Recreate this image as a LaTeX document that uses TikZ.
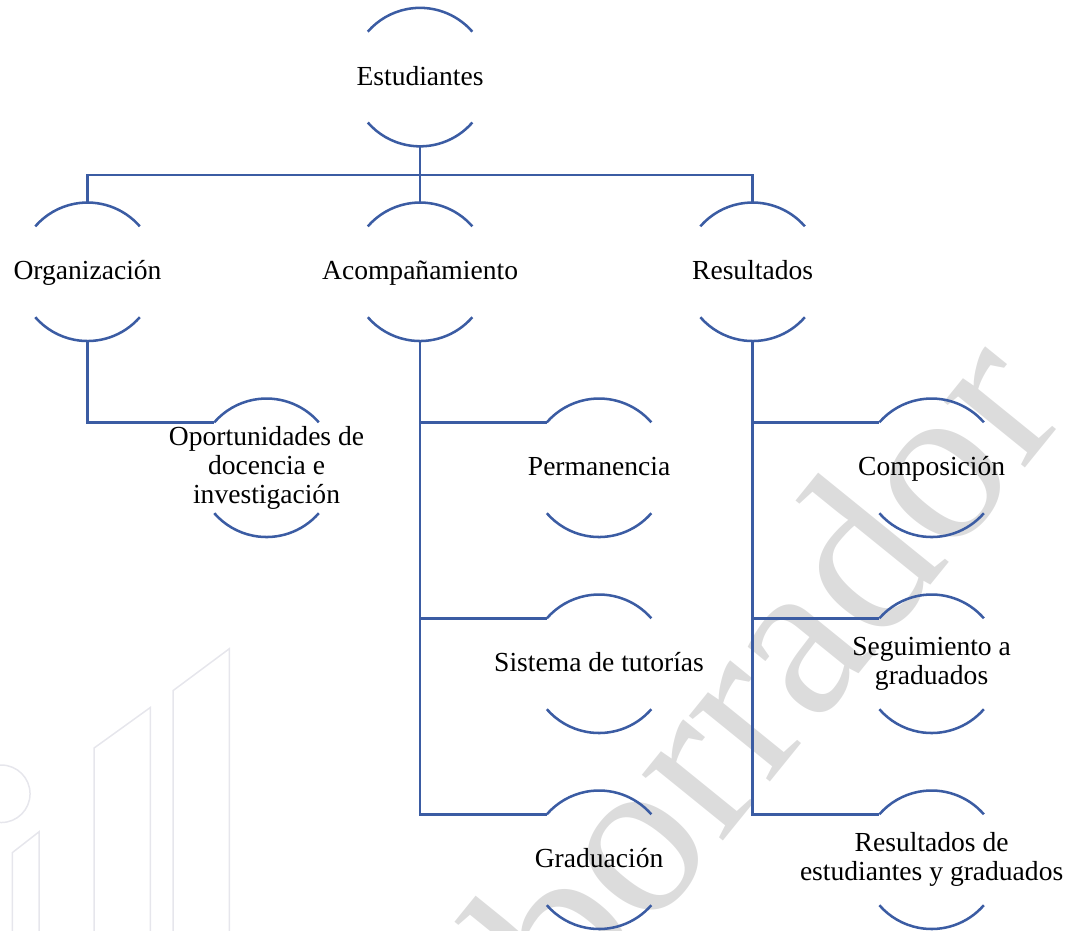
\documentclass[tikz,border=0pt]{standalone}
\usepackage{fontspec}
\setmainfont{Liberation Serif}
\usepackage{xcolor}
\usepackage{tikz}
\usetikzlibrary{positioning}

\definecolor{azulrama}{RGB}{59,92,163}
\definecolor{grismarca}{RGB}{220,220,220}
\definecolor{grislogo}{RGB}{230,230,236}

\tikzset{
  ring/.style={circle,minimum size=2.12cm,inner sep=0pt,outer sep=0pt},
  textos/.style={font=\fontsize{12}{12.5}\selectfont,align=center,inner sep=0pt},
  texto/.style={font=\fontsize{12}{12.5}\selectfont,inner sep=0pt,text height=8.5pt,text depth=1.5pt},
  rama/.style={draw=azulrama,line width=1.1pt},
}

\begin{document}
\begin{tikzpicture}[auto,every node/.style={on grid,node distance=3cm}]
    \useasboundingbox (-6.43,1.18) rectangle (10.04,-13.07);
    % marca de agua
    \draw[grislogo,line width=0.65pt] (-6.41,-10.97) circle (0.44);
    \draw[grislogo,line width=0.65pt] (-6.24,-13.07) -- (-6.24,-11.87) -- (-5.83,-11.55) -- (-5.83,-13.07);
    \draw[grislogo,line width=0.65pt] (-4.99,-13.07) -- (-4.99,-10.27) -- (-4.13,-9.65) -- (-4.13,-13.07);
    \draw[grislogo,line width=0.65pt] (-3.78,-13.07) -- (-3.78,-9.39) -- (-2.92,-8.75) -- (-2.92,-13.07);
    \node[rotate=51,text=grismarca,font=\fontsize{99}{99}\selectfont] (marca) at (5.25,-9.05) {borrador};

    \node[ring,label={[texto]center:Estudiantes}] (est) {};
    \node[ring,below of=est,node distance=2.98cm,label={[texto]center:Acompañamiento}] (acomp) {};
    \node[ring,left of=acomp,node distance=5.09cm,label={[texto]center:Organización}] (org) {};
    \node[ring,right of=acomp,node distance=5.09cm,label={[texto]center:Resultados}] (res) {};

    \node[ring,below right=3cm and 2.74cm of org,label={[textos]center:{Oportunidades de\\docencia e\\investigación}}] (oport) {};
    \node[ring,below right=3cm and 2.74cm of acomp,label={[texto]center:Permanencia}] (perm) {};
    \node[ring,below of=perm,label={[texto]center:Sistema de tutorías}] (tut) {};
    \node[ring,below of=tut,label={[texto]center:Graduación}] (grad) {};
    \node[ring,below right=3cm and 2.74cm of res,label={[texto]center:Composición}] (comp) {};
    \node[ring,below of=comp,label={[textos]center:{Seguimiento a\\graduados}}] (segui) {};
    \node[ring,below of=segui,label={[textos]center:{Resultados de\\estudiantes y graduados}}] (resest) {};

    % arcos
    \foreach \n in {est,org,acomp,res,oport,perm,tut,grad,comp,segui,resest} {
      \draw[rama] (\n.41) arc[start angle=41,end angle=139,radius=1.06cm];
      \draw[rama] (\n.-41) arc[start angle=-41,end angle=-139,radius=1.06cm];
    }

    \coordinate[below=0.44cm of est.south] (barra);
    \draw[rama] (est.south) -- (barra);
    \draw[rama] (barra) -| (org.north);
    \draw[rama] (barra) -| (res.north);
    \draw[rama] (barra) -- (acomp.north);
    \draw[rama] (org.south) |- (oport.139);
    \foreach \n in {perm,tut,grad}
      \draw[rama] (acomp.south) |- (\n.139);
    \foreach \n in {comp,segui,resest}
      \draw[rama] (res.south) |- (\n.139);
  \end{tikzpicture}
\end{document}
